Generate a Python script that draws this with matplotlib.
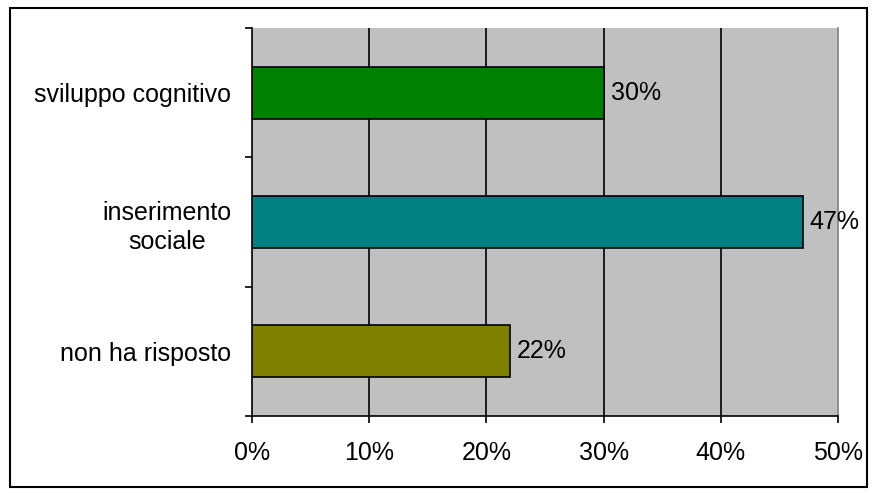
import matplotlib
matplotlib.use("Agg")
import matplotlib.pyplot as plt
from matplotlib.patches import Rectangle
from matplotlib.ticker import FixedLocator

plt.rcParams['font.family'] = ['Liberation Sans', 'DejaVu Sans']

categories = ["sviluppo cognitivo", "inserimento\nsociale", "non ha risposto"]
values = [30, 47, 22]
colors = ["#008000", "#008080", "#808000"]
xticks = [0, 10, 20, 30, 40, 50]
xtick_labels = ["0%", "10%", "20%", "30%", "40%", "50%"]

FS = 18
W, H = 876, 495
fig = plt.figure(figsize=(W / 100, H / 100), dpi=100)
ax = fig.add_axes([252 / W, 1 - 416 / H, (838 - 252) / W, (416 - 28) / H])
ax.set_facecolor("#C0C0C0")

ypos = list(range(len(categories)))[::-1]
ax.set_xlim(0, 50)
ax.set_ylim(-0.5, len(categories) - 0.5)

for x in xticks[1:-1]:
    ax.axvline(x, color="black", lw=1.2, zorder=1)

ax.barh(ypos, values, height=0.4, color=colors, edgecolor="black", linewidth=1.2, zorder=3)
for y, v in zip(ypos, values):
    ax.text(v + 0.6, y, f"{v}%", va="center", ha="left", fontsize=FS, zorder=4)

ax.set_xticks(xticks)
ax.set_xticklabels(xtick_labels, fontsize=FS)
ax.set_yticks(ypos)
ax.set_yticklabels(categories, fontsize=FS, ha="right", multialignment="center",
                   linespacing=1.3)
ax.tick_params(axis="y", length=0, pad=15)
ax.yaxis.set_minor_locator(FixedLocator([-0.5, 0.5, 1.5, 2.5]))
ax.tick_params(axis="y", which="minor", length=5, width=1.2, direction="out")
ax.tick_params(axis="x", length=5, width=1.2, direction="out", pad=13)

ax.spines["top"].set_visible(False)
ax.spines["right"].set_color("#808080")
ax.spines["right"].set_linewidth(1.2)
ax.spines["left"].set_linewidth(1.2)
ax.spines["bottom"].set_linewidth(1.2)

fig.patches.append(Rectangle((10 / W, 1 - 487 / H), (867 - 10) / W, (487 - 8) / H,
                             transform=fig.transFigure, fill=False,
                             edgecolor="black", linewidth=1.5))

fig.savefig("out.png", dpi=100)
